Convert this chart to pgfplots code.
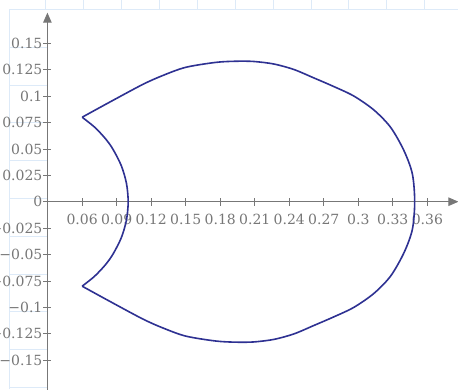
\documentclass[border=0pt]{standalone}
\usepackage{pgfplots}
\pgfplotsset{compat=1.18}
\usepackage{fontspec}
\setmainfont{DejaVu Serif}
\usetikzlibrary{arrows.meta}
\definecolor{gridblue}{HTML}{DDEAF8}
\definecolor{axgray}{HTML}{777777}
\definecolor{curvecol}{HTML}{2E3192}
\begin{document}
\begin{tikzpicture}[x=1pt,y=1pt]
\useasboundingbox (0,0) rectangle (458,-389);
\clip (0,0) rectangle (458,-389);
\fill[white] (0,0) rectangle (458,-389);
\foreach \gx in {45.8,83.7,121.6,159.4,197.3,235.2,273.1,311.0,348.8,386.7,424.6}
  \draw[gridblue,line width=1pt] (\gx,0) -- (\gx,-9.5);
\draw[gridblue,line width=1pt] (9,-9.5) -- (458,-9.5);
\draw[gridblue,line width=1pt] (9,-9.5) -- (9,-389);
\foreach \gy in {47.3,85.1,122.9,160.7,198.5,236.3,274.1,311.9,349.7,387.5}
  \draw[gridblue,line width=1pt] (9,-\gy) -- (47,-\gy);
\begin{axis}[
  at={(41.2,-369)}, anchor=south west,
  scale only axis, width=411pt, height=377pt,
  xmin=0.0298, xmax=0.387, ymin=-0.178, ymax=0.179,
  axis x line*=middle, axis y line*=left,
  axis line style={axgray, line width=0.9pt, -{Triangle[length=10pt,width=8.5pt]}},
  hide obscured x ticks=false, hide obscured y ticks=false,
  tick align=center, major tick length=8pt,
  tick style={axgray, line width=0.8pt},
  xtick={0.06,0.09,0.12,0.15,0.18,0.21,0.24,0.27,0.30,0.33,0.36},
  xticklabels={0.06,0.09,0.12,0.15,0.18,0.21,0.24,0.27,0.3,0.33,0.36},
  ytick={-0.15,-0.125,-0.1,-0.075,-0.05,-0.025,0,0.025,0.05,0.075,0.1,0.125,0.15},
  yticklabels={−0.15,−0.125,−0.1,−0.075,−0.05,−0.025,0,0.025,0.05,0.075,0.1,0.125,0.15},
  tick label style={font=\fontsize{14}{16}\selectfont, text=axgray},
  xticklabel style={yshift=-5pt},
  yticklabel style={xshift=2.5pt},
  /pgf/number format/assume math mode=true,
  clip=false,
]
% inner arc
\addplot[curvecol, line width=1.6pt, smooth] coordinates {
(0.06,0.08) (0.0707,0.0707) (0.08,0.06) (0.0866,0.05) (0.094,0.0342) (0.0985,0.0174) (0.1,0)
(0.0985,-0.0174) (0.094,-0.0342) (0.0866,-0.05) (0.08,-0.06) (0.0707,-0.0707) (0.06,-0.08)
};
% outer curve
\addplot[curvecol, line width=1.6pt, smooth, tension=0.5] coordinates {
(0.06,0.08) (0.0831,0.0938) (0.1122,0.1108) (0.1296,0.1193) (0.1498,0.1272) (0.1759,0.1319)
(0.1933,0.1330) (0.209,0.1328) (0.2266,0.1304) (0.244,0.1252) (0.2614,0.1172) (0.2788,0.1090)
(0.2962,0.1000) (0.3136,0.0868) (0.3281,0.0704) (0.3397,0.0483) (0.347,0.0262) (0.349,0)
(0.347,-0.0262) (0.3397,-0.0483) (0.3281,-0.0704) (0.3136,-0.0868) (0.2962,-0.1000) (0.2788,-0.1090)
(0.2614,-0.1172) (0.244,-0.1252) (0.2266,-0.1304) (0.209,-0.1328) (0.1933,-0.1330) (0.1759,-0.1319)
(0.1498,-0.1272) (0.1296,-0.1193) (0.1122,-0.1108) (0.0831,-0.0938) (0.06,-0.08)
};
\end{axis}
\end{tikzpicture}
\end{document}
